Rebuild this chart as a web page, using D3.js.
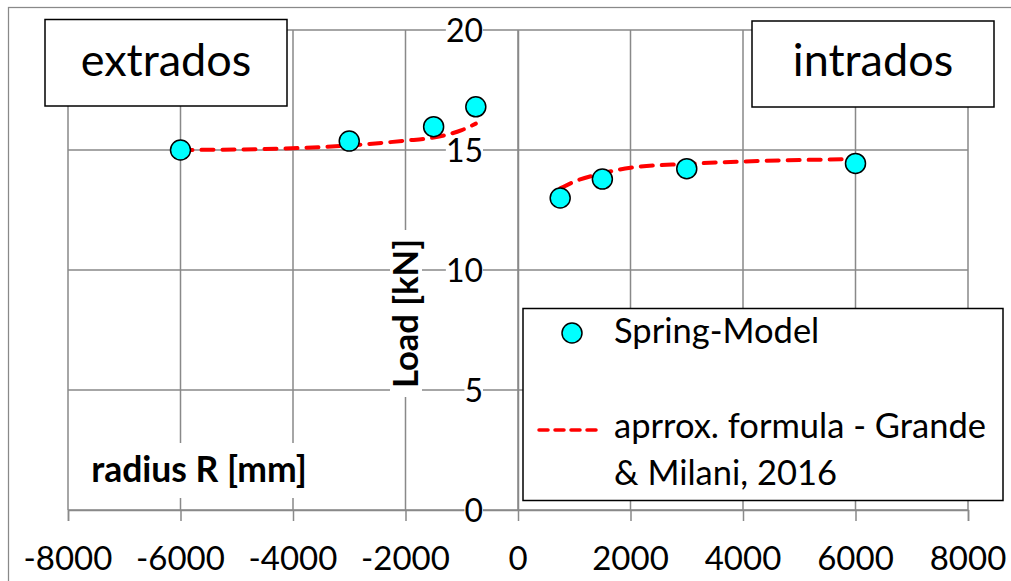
<!DOCTYPE html>
<html>
<head>
<meta charset="utf-8">
<script src="https://cdn.jsdelivr.net/npm/d3@7"></script>
<style>
  html, body { margin: 0; padding: 0; background: #fff; }
  svg { display: block; font-family: Lato, "Open Sans", sans-serif; }
</style>
</head>
<body>
<svg id="chart" width="1011" height="581"></svg>
<script>
// ---- data ----
const xTickValues = [-8000, -6000, -4000, -2000, 0, 2000, 4000, 6000, 8000];
const yTickValues = [0, 5, 10, 15, 20];

const springRadius = [-6000, -3000, -1500, -750, 750, 1500, 3000, 6000];
const springLoad   = [15.0, 15.37, 15.97, 16.80, 13.0, 13.79, 14.22, 14.44];

const formulaExtRadius = [-6000, -4500, -3000, -2000, -1500, -1000, -750];
const formulaExtLoad   = [15.0, 15.04, 15.19, 15.39, 15.52, 15.83, 16.1];
const formulaIntRadius = [750, 1000, 1500, 2000, 3000, 4000, 6000];
const formulaIntLoad   = [13.40, 13.68, 14.03, 14.26, 14.42, 14.52, 14.62];

const seriesNames = ["Spring-Model", ["aprrox. formula - Grande", "& Milani, 2016"]];
const boxLabels = ["extrados", "intrados"];
const xTitle = "radius R [mm]";
const yTitle = "Load [kN]";

// ---- layout ----
const svg = d3.select("#chart");
const W = 1011, H = 581;
const grid = "#898989";

const x = d3.scaleLinear().domain([-8000, 8000]).range([68, 968]);
const y = d3.scaleLinear().domain([0, 20]).range([510, 30]);

svg.append("rect").attr("width", W).attr("height", H).attr("fill", "#fff");
// chart area border
svg.append("rect").attr("x", 8.5).attr("y", 7.5).attr("width", 1100).attr("height", 700)
  .attr("fill", "none").attr("stroke", grid).attr("stroke-width", 1.25);

// gridlines
const gGrid = svg.append("g");
gGrid.selectAll("line.v").data(xTickValues).join("line")
  .attr("x1", d => x(d)).attr("x2", d => x(d))
  .attr("y1", y(20)).attr("y2", y(0))
  .attr("stroke", grid).attr("stroke-width", 1.5);
gGrid.selectAll("line.h").data(yTickValues).join("line")
  .attr("x1", x(-8000)).attr("x2", x(8000))
  .attr("y1", d => y(d)).attr("y2", d => y(d))
  .attr("stroke", grid).attr("stroke-width", 1.5);

// x axis (at y=0) with outside ticks
const xAxis = d3.axisBottom(x).tickValues(xTickValues).tickSize(11).tickFormat("");
const gx = svg.append("g").attr("transform", `translate(0,${y(0)})`).call(xAxis);
gx.select(".domain").attr("stroke", grid).attr("stroke-width", 1.5);
gx.selectAll(".tick line").attr("stroke", grid).attr("stroke-width", 1.5);

// x tick labels (plain hyphen minus as in the original)
svg.append("g").selectAll("text").data(xTickValues).join("text")
  .attr("x", d => x(d)).attr("y", 570)
  .attr("text-anchor", "middle")
  .attr("font-size", 33).attr("fill", "#000")
  .text(d => String(d));

// y axis at x=0
const yAxis = d3.axisLeft(y).tickValues(yTickValues).tickSize(0).tickFormat("");
const gy = svg.append("g").attr("transform", `translate(${x(0)},0)`).call(yAxis);
gy.select(".domain").attr("stroke", grid).attr("stroke-width", 1.5);

// y tick labels with white backgrounds
const gyl = svg.append("g");
yTickValues.forEach(v => {
  const t = gyl.append("text")
    .attr("x", 483).attr("y", y(v)).attr("dy", "0.36em")
    .attr("text-anchor", "end").attr("font-size", 32).attr("fill", "#000")
    .text(v);
  const bb = t.node().getBBox();
  gyl.insert("rect", () => t.node())
    .attr("x", bb.x).attr("y", bb.y + 4).attr("width", bb.width).attr("height", bb.height - 8)
    .attr("fill", "#fff");
});

// y axis title
svg.append("rect").attr("x", 390).attr("y", 230).attr("width", 32).attr("height", 167).attr("fill", "#fff");
svg.append("text")
  .attr("transform", `translate(418,${(230 + 397) / 2}) rotate(-90)`)
  .attr("text-anchor", "middle").attr("font-size", 34.5).attr("font-weight", "bold")
  .text(yTitle);

// x axis title
svg.append("rect").attr("x", 75).attr("y", 443).attr("width", 240).attr("height", 55).attr("fill", "#fff");
svg.append("text")
  .attr("x", 199).attr("y", 482)
  .attr("text-anchor", "middle").attr("font-size", 35.5).attr("font-weight", "bold")
  .text(xTitle);

// extrados / intrados boxes
const boxes = [{x0: 45, y0: 19.5, x1: 287, y1: 106}, {x0: 752, y0: 21, x1: 994, y1: 107}];
boxes.forEach((b, i) => {
  svg.append("rect").attr("x", b.x0).attr("y", b.y0).attr("width", b.x1 - b.x0).attr("height", b.y1 - b.y0)
    .attr("fill", "#fff").attr("stroke", "#000").attr("stroke-width", 1.5);
  svg.append("text").attr("x", (b.x0 + b.x1) / 2).attr("y", 76)
    .attr("text-anchor", "middle").attr("font-size", 45).text(boxLabels[i]);
});

// formula lines
const line = d3.line().x(d => x(d[0])).y(d => y(d[1])).curve(d3.curveMonotoneX);
[[formulaExtRadius, formulaExtLoad], [formulaIntRadius, formulaIntLoad]].forEach(([rs, ls]) => {
  svg.append("path")
    .attr("d", line(rs.map((r, i) => [r, ls[i]])))
    .attr("fill", "none").attr("stroke", "#ff0000").attr("stroke-width", 4)
    .attr("stroke-dasharray", "12,9").attr("stroke-linecap", "round");
});

// spring model points
svg.append("g").selectAll("circle").data(springRadius.map((r, i) => [r, springLoad[i]])).join("circle")
  .attr("cx", d => x(d[0])).attr("cy", d => y(d[1])).attr("r", 10)
  .attr("fill", "#00ffff").attr("stroke", "#000").attr("stroke-width", 1.5);

// legend
const lg = svg.append("g");
lg.append("rect").attr("x", 523).attr("y", 308.5).attr("width", 480).attr("height", 192)
  .attr("fill", "#fff").attr("stroke", "#000").attr("stroke-width", 1.5);
lg.append("circle").attr("cx", 572).attr("cy", 333).attr("r", 10)
  .attr("fill", "#00ffff").attr("stroke", "#000").attr("stroke-width", 1.5);
lg.append("text").attr("x", 614).attr("y", 343).attr("font-size", 34.5).text(seriesNames[0]);
lg.append("line").attr("x1", 539).attr("x2", 602).attr("y1", 430).attr("y2", 430)
  .attr("stroke", "#ff0000").attr("stroke-width", 3.5)
  .attr("stroke-dasharray", "9,7").attr("stroke-linecap", "round");
lg.append("text").attr("x", 614).attr("y", 438).attr("font-size", 34.5).text(seriesNames[1][0]);
lg.append("text").attr("x", 614).attr("y", 485).attr("font-size", 34.5).text(seriesNames[1][1]);
</script>
</body>
</html>
